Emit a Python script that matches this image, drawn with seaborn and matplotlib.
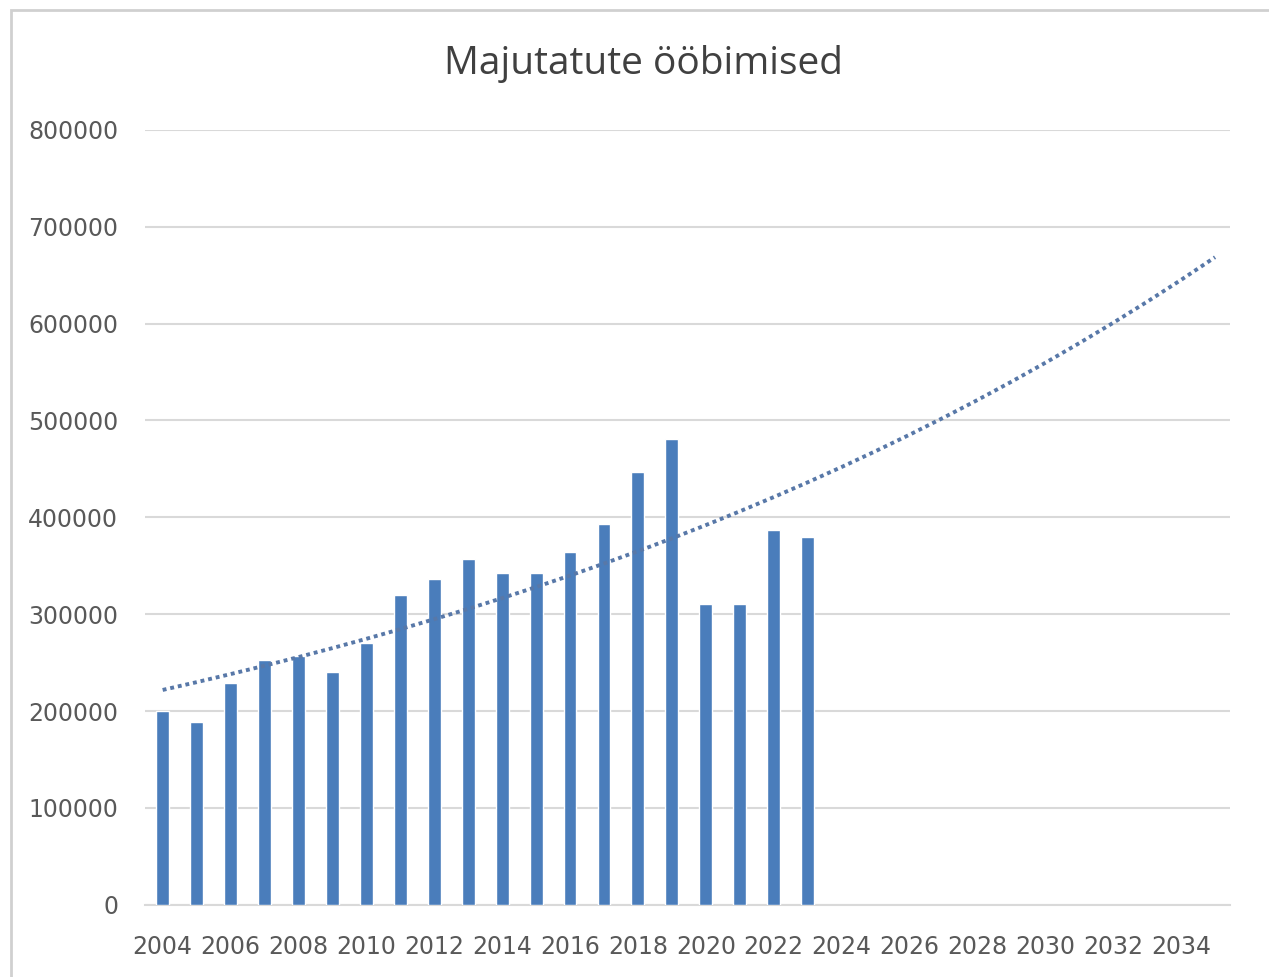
import numpy as np
import pandas as pd
import seaborn as sns
import matplotlib.pyplot as plt
from matplotlib.patches import Rectangle

# data
years = list(range(2004, 2024))
nights = [200000, 189000, 229000, 253000, 257000, 240000, 270000, 320000, 336000, 357000,
          343000, 343000, 364000, 393000, 447000, 481000, 310000, 310000, 387000, 380000]
forecast_years = 12  # trendline forward forecast to 2035
all_years = [str(y) for y in range(2004, 2024 + forecast_years)]
tick_labels = [str(y) for y in range(2004, 2036, 2)]

df = pd.DataFrame({"year": [str(y) for y in years], "nights": nights})

sns.set_theme(style="white")
plt.rcParams["font.family"] = ["DejaVu Sans"]

fig = plt.figure(figsize=(12.69, 9.77), dpi=100)
ax = fig.add_axes([0.114, 0.074, 0.855, 0.793])

bar_col = "#4a7dbb"
sns.barplot(data=df, x="year", y="nights", order=all_years, color=bar_col,
            width=0.38, saturation=1, ax=ax, zorder=3)

# exponential trendline (like excel: ln y = a + b x), extended forward
xpos = np.arange(len(years))
b, a = np.polyfit(xpos, np.log(nights), 1)
xt = np.arange(len(all_years))
ax.plot(xt, np.exp(a + b * xt), color="#5878a8", linestyle=(0, (1, 1)),
        linewidth=2.8, zorder=4)

ax.set_ylim(0, 800000)
ax.set_xlim(-0.53, 31.43)
ax.set_yticks(range(0, 800001, 100000))
ax.set_yticklabels([str(v) for v in range(0, 800001, 100000)])
ax.set_xticks(range(0, len(all_years), 2))
ax.set_xticklabels(tick_labels)
ax.yaxis.grid(True, color="#d9d9d9", linewidth=1.5, zorder=0)
ax.set_axisbelow(True)
for s in ["top", "right", "left"]:
    ax.spines[s].set_visible(False)
ax.spines["bottom"].set_color("#d9d9d9")
ax.spines["bottom"].set_linewidth(1.5)
ax.tick_params(axis="both", length=0, labelsize=17, colors="#595959")
ax.tick_params(axis="x", pad=22)
ax.tick_params(axis="y", pad=19)
ax.set_xlabel("")
ax.set_ylabel("")

fig.text(0.507, 0.935, "Majutatute ööbimised", ha="center", va="center",
         fontsize=28, color="#404040", family=["Open Sans", "DejaVu Sans"])

# chart area border
fig.patches.append(Rectangle((0.009, -0.01), 1.0, 1.0, transform=fig.transFigure,
                             fill=False, edgecolor="#d0d0d0", linewidth=2))

fig.savefig("out.png", dpi=100, facecolor="white")
